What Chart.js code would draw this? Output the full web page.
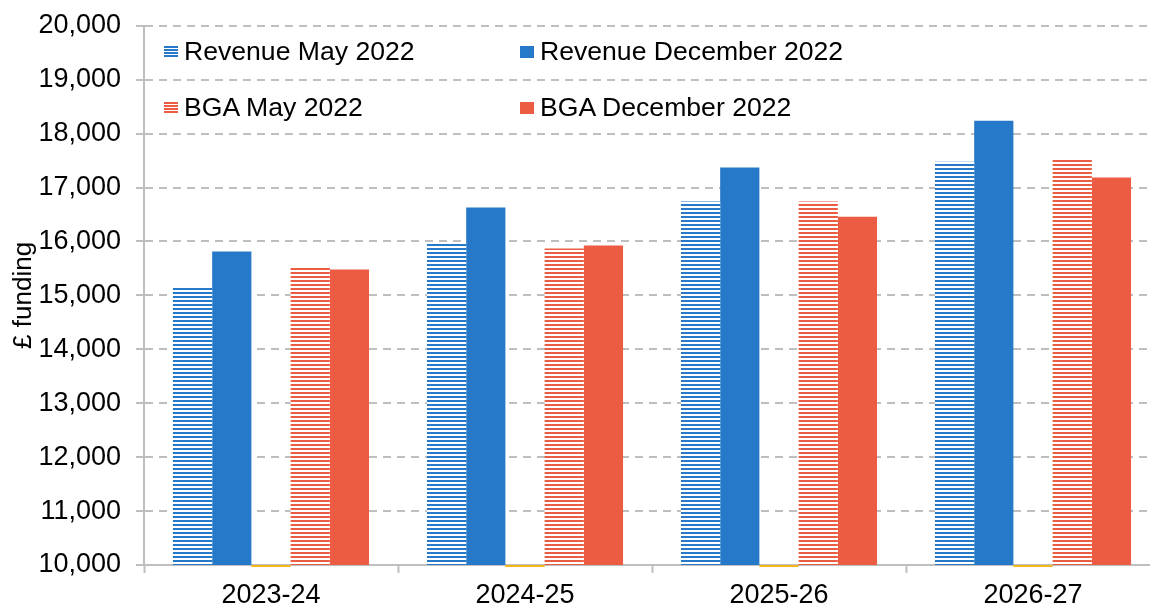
<!DOCTYPE html>
<html>
<head>
<meta charset="utf-8">
<script src="https://cdn.jsdelivr.net/npm/chart.js@4.4.0/dist/chart.umd.min.js"></script>
<style>
  html, body { margin: 0; padding: 0; overflow: hidden; background: #fff; width: 1150px; height: 608px; }
  #wrap { position: relative; width: 1150px; height: 608px; overflow: hidden; }
  canvas { position: absolute; left: 0; top: 0; }
  .lg { position: absolute; font-family: "Liberation Sans", Arial, sans-serif; font-size: 26.6px; line-height: 30px; color: #000; white-space: nowrap; }
  .mk { position: absolute; width: 14px; height: 12px; }
</style>
</head>
<body>
<div id="wrap">
  <canvas id="c" width="1162" height="608" style="width:1162px;height:608px"></canvas>
  <div id="legend"></div>
</div>
<script>
// ---- data ----
const categories = ["2023-24", "2024-25", "2025-26", "2026-27"];
const revenueMay2022 = [15150, 15960, 16740, 17480];
const revenueDec2022 = [15815, 16630, 17370, 18240];
const bgaMay2022 = [15520, 15870, 16740, 17520];
const bgaDec2022 = [15480, 15925, 16460, 17185];
const spacerRange = [9963, 10000];
const yTicks = [10000, 11000, 12000, 13000, 14000, 15000, 16000, 17000, 18000, 19000, 20000];
const seriesNames = ["Revenue May 2022", "Revenue December 2022", "BGA May 2022", "BGA December 2022"];

const BLUE = '#2678C8';
const RED = '#EC5C42';
const GOLD = '#F2B51C';
const GRID = '#BFBFBF';
const FONT = '"Liberation Sans", Arial, sans-serif';

function stripes(color) {
  const p = document.createElement('canvas');
  p.width = 8; p.height = 4;
  const g = p.getContext('2d');
  g.fillStyle = '#fff'; g.fillRect(0, 0, 8, 4);
  g.fillStyle = color; g.fillRect(0, 0, 8, 2);
  return document.getElementById('c').getContext('2d').createPattern(p, 'repeat');
}

const ctx = document.getElementById('c').getContext('2d');
new Chart(ctx, {
  type: 'bar',
  data: {
    labels: categories,
    datasets: [
      { label: seriesNames[0], data: revenueMay2022, backgroundColor: stripes(BLUE) },
      { label: seriesNames[1], data: revenueDec2022, backgroundColor: BLUE },
      { label: 'spacer', data: categories.map(() => spacerRange.slice()), backgroundColor: GOLD, clip: false },
      { label: seriesNames[2], data: bgaMay2022, backgroundColor: stripes(RED) },
      { label: seriesNames[3], data: bgaDec2022, backgroundColor: RED }
    ]
  },
  options: {
    responsive: false,
    animation: false,
    devicePixelRatio: 1,
    barPercentage: 1,
    categoryPercentage: 0.772,
    layout: { padding: { top: 25, right: 2, left: 0, bottom: 0 } },
    plugins: { legend: { display: false }, tooltip: { enabled: false } },
    scales: {
      x: {
        grid: { display: true, drawOnChartArea: false, drawTicks: true, tickLength: 8, tickColor: GRID, tickWidth: 2, color: GRID },
        border: { display: true, color: GRID, width: 2 },
        ticks: { color: '#000', font: { family: FONT, size: 27 }, padding: 6 },
        afterFit: (s) => { s.height = 43; }
      },
      y: {
        min: 10000, max: 20000,
        afterBuildTicks: (s) => { s.ticks = yTicks.map(v => ({ value: v })); },
        grid: { color: GRID, lineWidth: 2, tickLength: 8, tickColor: GRID, tickWidth: 2 },
        border: { display: true, color: GRID, width: 2, dash: [8, 6] },
        ticks: {
          color: '#000', font: { family: FONT, size: 27, lineHeight: 0.8 }, padding: 15,
          callback: (v) => Number(v).toLocaleString('en-US')
        },
        title: { display: true, text: '£ funding', color: '#000', font: { family: FONT, size: 26 }, padding: { top: 8, bottom: 0 } },
        afterFit: (s) => { s.width = 144; }
      }
    }
  }
});

// ---- legend (HTML text) ----
const legendItems = [
  { name: seriesNames[0], color: BLUE, hatched: true, x: 164, y: 36 },
  { name: seriesNames[1], color: BLUE, hatched: false, x: 520, y: 36 },
  { name: seriesNames[2], color: RED, hatched: true, x: 164, y: 92 },
  { name: seriesNames[3], color: RED, hatched: false, x: 520, y: 92 }
];
const lg = document.getElementById('legend');
legendItems.forEach(it => {
  const mk = document.createElement('div');
  mk.className = 'mk';
  mk.style.left = it.x + 'px';
  mk.style.top = (it.y + 10) + 'px';
  mk.style.background = it.hatched
    ? `repeating-linear-gradient(to bottom, ${it.color} 0px, ${it.color} 2px, #fff 2px, #fff 3px)`
    : it.color;
  lg.appendChild(mk);
  const t = document.createElement('div');
  t.className = 'lg';
  t.style.left = (it.x + 20) + 'px';
  t.style.top = it.y + 'px';
  t.textContent = it.name;
  lg.appendChild(t);
});
</script>
</body>
</html>
